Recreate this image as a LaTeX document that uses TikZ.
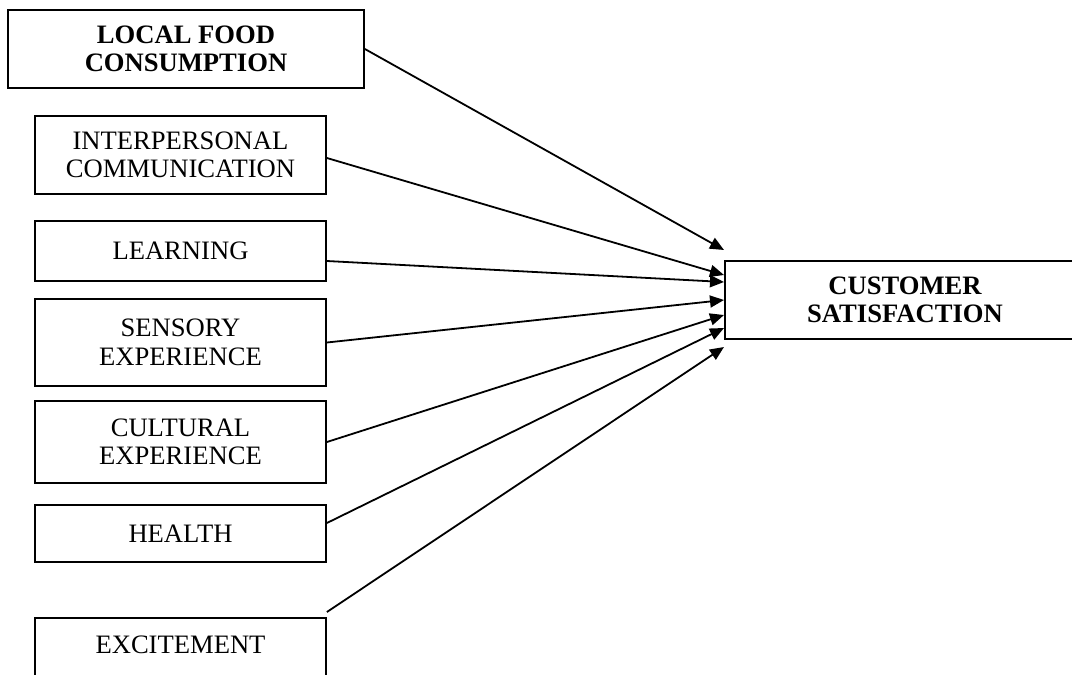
\documentclass[tikz,border=0pt]{standalone}
\usepackage{fontspec}
\setmainfont{Liberation Serif}
\usetikzlibrary{arrows.meta}
\begin{document}
\begin{tikzpicture}[x=1pt,y=-1pt,
  box/.style={draw, line width=1.8pt, align=center, inner sep=0pt, minimum width=291pt,
    font=\fontsize{26.6}{28.5}\selectfont},
  boldbox/.style={box, font=\fontsize{26.6}{28.5}\selectfont\bfseries},
  conn/.style={line width=1.8pt, -{Triangle[length=14pt,width=12pt]}},
  ]
\useasboundingbox (0,0) rectangle (1072,675);
\node[boldbox, minimum width=356pt, minimum height=78pt] (lfc) at (186,49) {LOCAL FOOD\\CONSUMPTION};
\node[box, minimum height=78pt] (ipc) at (180.5,155) {INTERPERSONAL\\COMMUNICATION};
\node[box, minimum height=60pt] (lrn) at (180.5,251) {LEARNING};
\node[box, minimum height=87pt] (sen) at (180.5,342.5) {SENSORY\\EXPERIENCE};
\node[box, minimum height=82pt] (cul) at (180.5,442) {CULTURAL\\EXPERIENCE};
\node[box, minimum height=57pt] (hea) at (180.5,533.5) {HEALTH};
\node[box, anchor=north, inner ysep=18pt, text height=17.6pt, text depth=24pt] (exc) at (180.5,617) {EXCITEMENT};
\node[boldbox, minimum width=360pt, minimum height=78pt, line width=2pt] (cs) at (905,300) {CUSTOMER\\SATISFACTION};

\draw[conn] (lfc.east) -- ([yshift=50pt]cs.west);
\draw[conn] ([yshift=-3pt]ipc.east) -- ([yshift=25pt]cs.west);
\draw[conn] ([yshift=-10pt]lrn.east) -- ([yshift=18pt]cs.west);
\draw[conn] (sen.east) -- (cs.west);
\draw[conn] (cul.east) -- ([yshift=-15pt]cs.west);
\draw[conn] ([yshift=10.5pt]hea.east) -- ([yshift=-28pt]cs.west);
\draw[conn] ([yshift=5pt]exc.north east) -- ([yshift=-47pt]cs.west);
\end{tikzpicture}
\end{document}
